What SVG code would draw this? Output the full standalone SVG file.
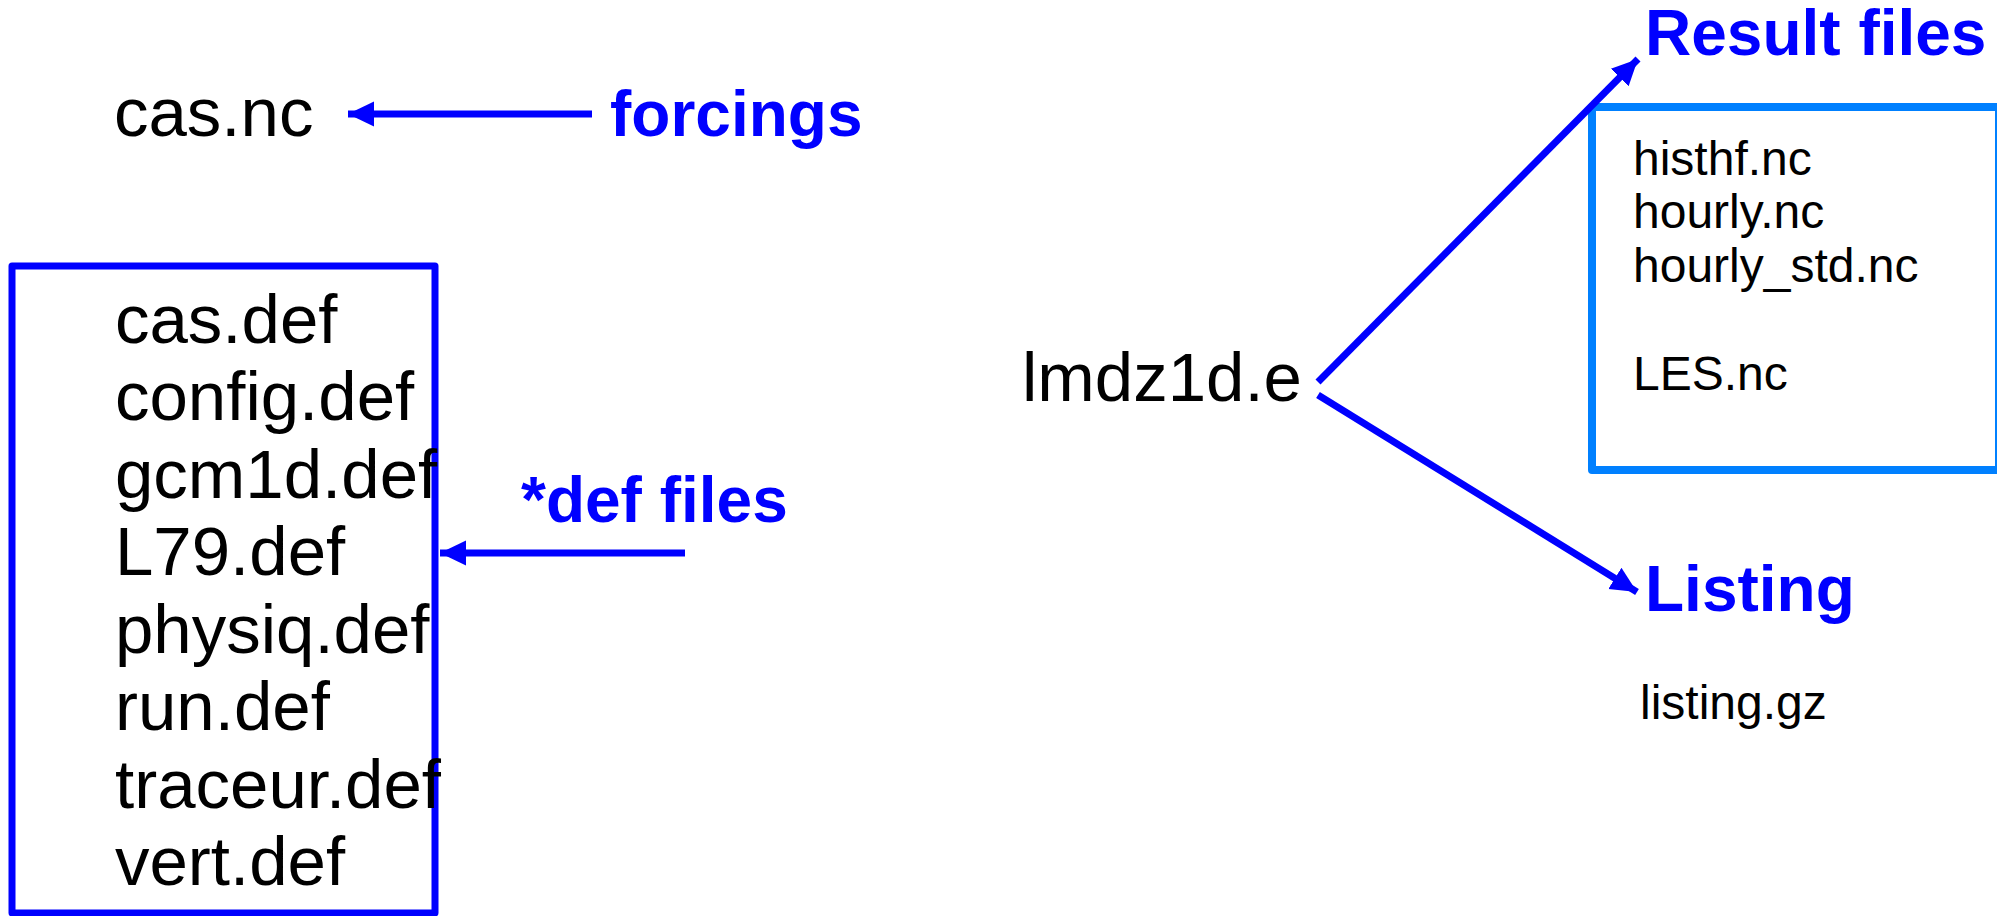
<svg xmlns="http://www.w3.org/2000/svg" width="1997" height="916" viewBox="0 0 1997 916">
<style>
.t{font-family:"Liberation Sans",Arial,sans-serif;fill:#000}
.big{font-size:69px}
.sm{font-size:48px}
.lab{font-family:"Liberation Sans",Arial,sans-serif;font-weight:bold;font-size:64px;fill:#0000ff}
.ln{stroke:#0000ff;stroke-width:7;fill:none}
</style>
<defs>
<marker id="ah" markerUnits="userSpaceOnUse" markerWidth="28" markerHeight="28" viewBox="0 0 28 28" refX="26" refY="14" orient="auto">
<path d="M0,1.5 L26,14 L0,26.5 Z" fill="#0000ff"/>
</marker>
</defs>
<rect width="1997" height="916" fill="#fff"/>
<g id="casnc"><text class="t big" x="114" y="136">cas.nc</text></g>
<g id="forcings"><text class="lab" x="610" y="136">forcings</text></g>
<g id="defbox">
<rect x="12" y="266" width="423" height="647" fill="none" stroke="#0000ff" stroke-width="7" stroke-linejoin="round"/>
<text class="t big" x="115" y="343">cas.def</text>
<text class="t big" x="115" y="420">config.def</text>
<text class="t big" x="115" y="498">gcm1d.def</text>
<text class="t big" x="115" y="575">L79.def</text>
<text class="t big" x="115" y="653">physiq.def</text>
<text class="t big" x="115" y="730">run.def</text>
<text class="t big" x="115" y="808">traceur.def</text>
<text class="t big" x="115" y="885">vert.def</text>
</g>
<g id="deffiles"><text class="lab" x="521" y="522">*def files</text></g>
<g id="lmdz"><text class="t big" x="1022" y="401">lmdz1d.e</text></g>
<g id="resultlabel"><text class="lab" x="1645" y="55">Result files</text></g>
<g id="resultbox">
<rect x="1592" y="107" width="407" height="363" fill="none" stroke="#0080ff" stroke-width="8" stroke-linejoin="round"/>
<text class="t sm" x="1633" y="175">histhf.nc</text>
<text class="t sm" x="1633" y="228">hourly.nc</text>
<text class="t sm" x="1633" y="282">hourly_std.nc</text>
<text class="t sm" x="1633" y="390">LES.nc</text>
</g>
<g id="listinglabel"><text class="lab" x="1645" y="611">Listing</text></g>
<g id="listinggz"><text class="t sm" x="1640" y="719">listing.gz</text></g>
<g id="connectors">
<line class="ln" x1="592" y1="114" x2="348" y2="114" marker-end="url(#ah)"/>
<line class="ln" x1="685" y1="553" x2="440" y2="553" marker-end="url(#ah)"/>
<line class="ln" x1="1318" y1="382" x2="1638" y2="59" marker-end="url(#ah)"/>
<line class="ln" x1="1318" y1="395" x2="1637" y2="592" marker-end="url(#ah)"/>
</g>
</svg>
